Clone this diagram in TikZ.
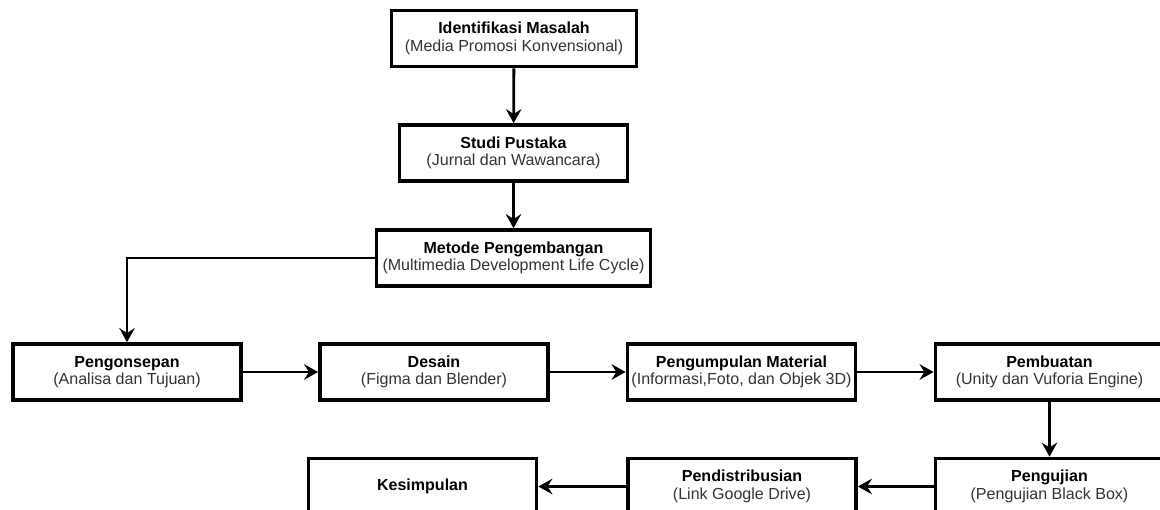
\documentclass[tikz,border=0pt]{standalone}
\usepackage{fontspec}
\setmainfont{Liberation Sans}
\usetikzlibrary{arrows.meta, positioning}

\tikzset{
  box/.style={draw=black, line width=2.6pt, fill=white, minimum width=5.7cm, minimum height=1.4cm,
              align=center, inner sep=0pt, font=\fontsize{11.4}{12.4}\selectfont},
  flow/.style={line width=2pt, -{Stealth[length=10pt, width=11pt, inset=3.5pt]}}
}
\newcommand{\boxtext}[2]{\textbf{#1}\\{\color{black!80}(#2)}}

\begin{document}
\begin{tikzpicture}[x=0.025cm, y=-0.025cm]

        \useasboundingbox (0,0) rectangle (1160,510);
        \clip (0,0) rectangle (1160,510);  % boxes at the edge are cut off

        % Top column
        \node[box, minimum width=6.125cm] (ident) at (514, 38.5) {\boxtext{Identifikasi Masalah}{Media Promosi Konvensional}};
        \node[box] (studi) at (513.5, 153) {\boxtext{Studi Pustaka}{Jurnal dan Wawancara}};
        \node[box, minimum width=6.85cm] (metode) at (513.5, 258) {\boxtext{Metode Pengembangan}{Multimedia Development Life Cycle}};

        % Middle row
        \node[box] (konsep) at (127, 372) {\boxtext{Pengonsepan}{Analisa dan Tujuan}};
        \node[box] (desain) at (434, 372) {\boxtext{Desain}{Figma dan Blender}};
        \node[box] (material) at (741.5, 372) {\boxtext{Pengumpulan Material}{Informasi,Foto, dan Objek 3D}};
        \node[box] (buat) at (1049.5, 372) {\boxtext{Pembuatan}{Unity dan Vuforia Engine}};

        % Bottom row
        \node[box] (uji) at (1049.5, 486.5) {\boxtext{Pengujian}{Pengujian Black Box}};
        \node[box] (distribusi) at (742, 486.5) {\boxtext{Pendistribusian}{Link Google Drive}};
        \node[box] (simpul) at (422.5, 486.5) {\textbf{Kesimpulan}};

        \draw[flow] (ident) -- (studi);
        \draw[flow] (studi) -- (metode);
        \draw[flow] (metode.west) -| (konsep.north);
        \draw[flow] (konsep) -- (desain);
        \draw[flow] (desain) -- (material);
        \draw[flow] (material) -- (buat);
        \draw[flow] (buat) -- (uji);
        \draw[flow] (uji) -- (distribusi);
        \draw[flow] (distribusi) -- (simpul);

\end{tikzpicture}
\end{document}
